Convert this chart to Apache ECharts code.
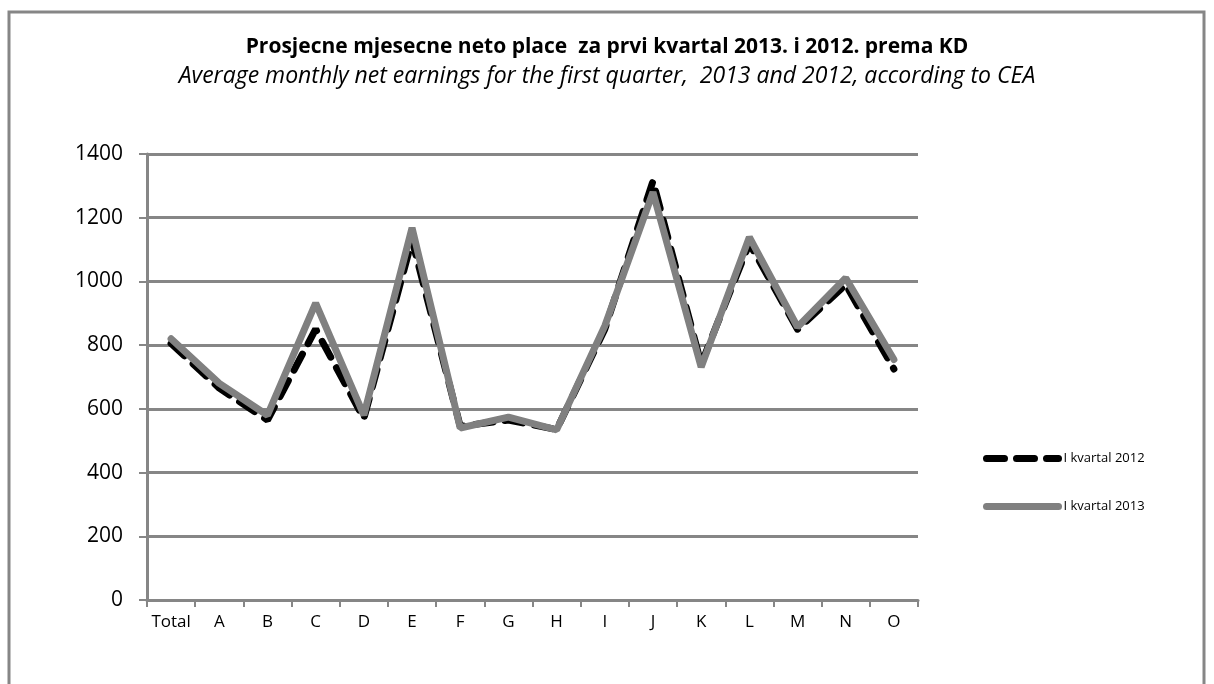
<!DOCTYPE html>
<html lang="en">
<head>
<meta charset="UTF-8">
<title>Prosjecne mjesecne neto place</title>
<style>
html, body { margin: 0; padding: 0; background: #fff; }
#main { width: 1214px; height: 684px; }
</style>
</head>
<body>
<div id="main"></div>

<script src="https://cdn.jsdelivr.net/npm/echarts@6/dist/echarts.min.js"></script>
<script>
var categories = ['Total', 'A', 'B', 'C', 'D', 'E', 'F', 'G', 'H', 'I', 'J', 'K', 'L', 'M', 'N', 'O'];
var kvartal2012 = [805, 665, 565, 850, 570, 1130, 545, 565, 535, 850, 1315, 740, 1120, 850, 990, 725];
var kvartal2013 = [820, 680, 580, 932, 580, 1168, 540, 574, 534, 860, 1280, 731, 1139, 857, 1011, 755];
var seriesNames = ['I kvartal 2012', 'I kvartal 2013'];

var myChart = echarts.init(document.getElementById('main'));

var font = '"Open Sans", sans-serif';

option = {
    animation: false,
    backgroundColor: '#fff',
    title: {
        text: 'Prosjecne mjesecne neto place  za prvi kvartal 2013. i 2012. prema KD',
        subtext: 'Average monthly net earnings for the first quarter,  2013 and 2012, according to CEA',
        left: 'center',
        top: 32,
        itemGap: 7,
        textStyle: {
            fontFamily: font,
            fontWeight: 'bold',
            fontSize: 21,
            color: '#000'
        },
        subtextStyle: {
            fontFamily: font,
            fontStyle: 'italic',
            fontSize: 23,
            color: '#000'
        }
    },
    graphic: [{
        type: 'rect',
        shape: { x: 9, y: 12, width: 1195, height: 700 },
        style: { fill: null, stroke: '#868686', lineWidth: 3 },
        silent: true
    }],
    legend: {
        orient: 'vertical',
        left: 978,
        top: 447,
        itemGap: 35,
        itemWidth: 72,
        itemHeight: 8,
        data: seriesNames,
        itemStyle: { opacity: 0 },
        lineStyle: { width: 7 },
        textStyle: {
            fontFamily: font,
            fontSize: 13,
            color: '#000'
        }
    },
    grid: {
        left: 147,
        right: 296,
        top: 154,
        bottom: 84
    },
    xAxis: {
        type: 'category',
        data: categories,
        boundaryGap: true,
        axisLine: { lineStyle: { color: '#868686', width: 3 } },
        axisTick: { show: true, length: 7, lineStyle: { color: '#868686', width: 2 } },
        axisLabel: {
            fontFamily: font,
            fontSize: 17,
            color: '#000',
            margin: 14,
            interval: 0
        }
    },
    yAxis: {
        type: 'value',
        min: 0,
        max: 1400,
        interval: 200,
        axisLine: { show: true, lineStyle: { color: '#868686', width: 3 } },
        axisTick: { show: true, length: 8, lineStyle: { color: '#868686', width: 2 } },
        splitLine: { lineStyle: { color: '#868686', width: 3 } },
        axisLabel: {
            fontFamily: font,
            fontSize: 21,
            color: '#000',
            margin: 24,
            formatter: function (v) { return String(v); }
        }
    },
    series: [
        {
            name: seriesNames[0],
            type: 'line',
            data: kvartal2012,
            symbol: 'none',
            lineStyle: { color: '#000', width: 7, type: [18, 12], cap: 'round' },
            itemStyle: { color: '#000' },
            z: 2
        },
        {
            name: seriesNames[1],
            type: 'line',
            data: kvartal2013,
            symbol: 'none',
            lineStyle: { color: '#808080', width: 7, cap: 'round' },
            itemStyle: { color: '#808080' },
            z: 3
        }
    ]
};

myChart.setOption(option);
</script>
</body>
</html>
